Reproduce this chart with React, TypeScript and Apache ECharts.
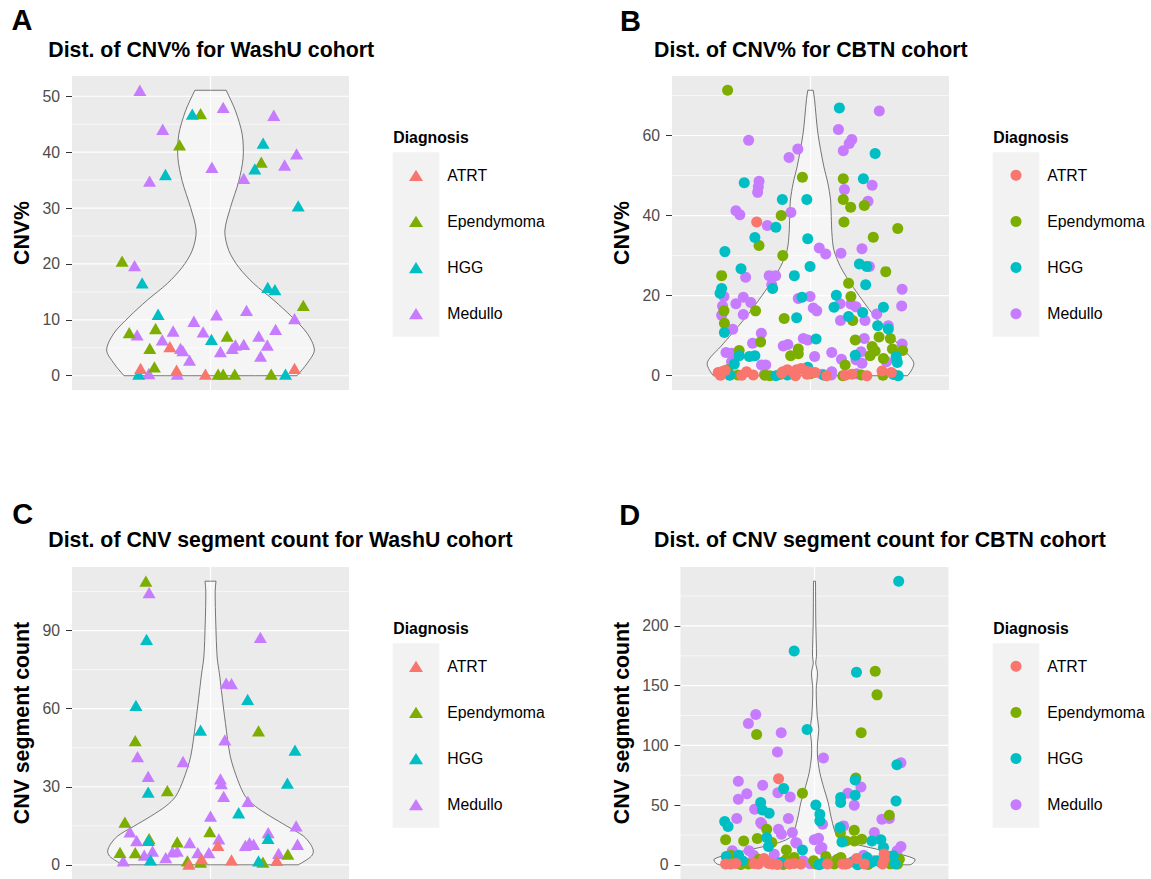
import React, { useEffect, useRef } from 'react';
import * as echarts from 'echarts';

const FONT = "'Liberation Sans', Arial, Helvetica, sans-serif";

const DIAGNOSES = ['ATRT', 'Ependymoma', 'HGG', 'Medullo'];
const COLORS = ['#F8766D', '#7CAE00', '#00BFC4', '#C77CFF'];
// Medullo first, ATRT last so the ATRT marks sit on top
const DRAW_ORDER = [3, 1, 2, 0];

// ---------- WashU, CNV% : [jitter offset, value] ----------
const washuPctATRT = [[-0.176, 5.2], [-0.303, 1.3], [-0.147, 1.0], [-0.022, 0.3], [0.364, 1.3]];
const washuPctEpendymoma = [
  [-0.043, 46.9], [-0.134, 41.3], [0.22, 38.2], [-0.383, 20.5], [-0.352, 7.7], [-0.238, 8.45],
  [-0.263, 4.9], [-0.243, 1.6], [0.072, 7.1], [0.402, 12.6], [0.033, 0.3], [0.055, 0.3],
  [0.105, 0.3], [0.263, 0.3],
];
const washuPctHGG = [
  [-0.079, 46.8], [-0.195, 36.0], [0.228, 41.6], [0.192, 37.0], [0.38, 30.4], [-0.296, 16.6],
  [-0.227, 11.0], [0.248, 15.8], [0.279, 15.4], [0.004, 6.5], [-0.311, 0.3], [0.325, 0.3],
];
const washuPctMedullo = [
  [-0.306, 51.07], [-0.207, 44.1], [-0.264, 34.8], [0.055, 48.0], [0.006, 37.3], [0.274, 46.6],
  [0.321, 37.7], [0.373, 39.7], [0.144, 35.3], [-0.329, 19.7], [-0.318, 7.3], [-0.209, 6.4],
  [-0.162, 8.0], [-0.13, 4.9], [-0.12, 4.5], [-0.091, 2.8], [-0.072, 9.75], [-0.032, 7.85],
  [0.026, 10.9], [0.043, 4.3], [0.094, 4.9], [0.108, 5.5], [0.144, 5.6], [0.156, 11.7],
  [0.209, 7.1], [0.217, 3.5], [0.246, 5.5], [0.282, 8.3], [0.364, 10.2], [-0.267, 0.4], [-0.144, 0.3],
];
const washuPctViolinY = [0, 2.2, 4.6, 7.6, 10.5, 13.5, 16.5, 19.4, 22.4, 25.9, 30.1, 34.8, 39.0, 43.2, 47.4, 51.07];
const washuPctViolinW = [0.833, 0.93, 1.0, 0.93, 0.785, 0.61, 0.416, 0.272, 0.176, 0.138, 0.192, 0.272, 0.314, 0.305, 0.24, 0.151];
const washuPctMajor = [0, 10, 20, 30, 40, 50];
const washuPctMinor = [5, 15, 25, 35, 45];

// ---------- CBTN, CNV% ----------
const cbtnPctATRT = [
  [-0.4, 0.8], [-0.385, 1.0], [-0.37, 1.3], [-0.39, 0.1], [-0.298, 0.1], [-0.277, 1.0], [-0.248, 0.2],
  [-0.233, 38.4], [-0.12, 1.0], [-0.1, 1.5], [-0.07, 0.5], [-0.06, 1.5], [-0.04, 1.8], [-0.02, 1.1],
  [0.0, 0.9], [0.02, 0.8], [0.07, 0.0], [0.15, 0.1], [0.18, 0.4], [0.244, 0.0], [0.31, 1.2],
  [0.35, 0.8], [-0.125, 0.6], [-0.015, 0.4], [-0.065, 0.0],
];
const cbtnPctEpendymoma = [
  [-0.359, 71.3], [-0.035, 49.6], [0.142, 49.2], [0.142, 44.0], [0.174, 42.1], [0.233, 42.5],
  [-0.127, 40.0], [0.145, 38.4], [0.378, 36.8], [-0.223, 32.5], [0.272, 34.6], [-0.12, 30.0],
  [0.326, 26.0], [-0.385, 25.0], [0.165, 23.1], [0.175, 19.8], [0.183, 13.8], [-0.375, 16.2],
  [-0.238, 16.2], [-0.114, 14.3], [-0.373, 13.1], [-0.216, 8.4], [0.194, 8.9], [0.297, 9.7],
  [0.346, 9.3], [0.355, 6.7], [0.399, 6.3], [0.267, 7.3], [0.28, 6.2], [-0.053, 6.7], [-0.053, 5.5],
  [-0.086, 5.0], [0.258, 5.0], [-0.309, 6.3], [0.316, 4.3], [0.373, 3.9], [0.15, 2.7], [-0.314, 0.2],
  [-0.197, 0.1], [-0.176, 0.0], [-0.132, 0.3], [0.14, 0.0], [0.22, 0.2], [0.314, 0.1], [-0.36, 1.5],
  [0.0, 0.5],
];
const cbtnPctHGG = [
  [0.125, 66.9], [0.28, 55.5], [-0.287, 48.2], [0.229, 49.2], [-0.122, 44.0], [-0.016, 44.0],
  [-0.15, 37.1], [-0.241, 34.5], [-0.012, 34.2], [-0.371, 31.0], [0.212, 27.9], [0.244, 27.3],
  [-0.002, 27.3], [-0.301, 26.7], [-0.07, 25.0], [-0.164, 21.8], [-0.385, 21.8], [-0.392, 20.6],
  [0.239, 22.7], [0.112, 20.1], [-0.037, 19.6], [0.102, 17.1], [0.316, 17.1], [0.226, 15.8],
  [0.165, 14.8], [-0.06, 14.5], [-0.373, 10.8], [0.291, 12.5], [0.337, 11.7], [0.024, 9.2],
  [0.194, 5.1], [-0.309, 5.0], [-0.265, 4.8], [-0.241, 5.0], [-0.33, 2.9], [0.371, 4.8], [0.376, 3.3],
  [-0.012, 2.1], [-0.35, 0.1], [-0.15, 0.0], [-0.1, 0.2], [0.06, 0.1], [0.36, 0.3], [0.38, 0.0],
];
const cbtnPctMedullo = [
  [-0.268, 58.8], [-0.055, 56.6], [-0.093, 54.5], [0.298, 66.1], [0.121, 61.5], [0.179, 59.0],
  [0.168, 58.0], [0.142, 56.2], [-0.223, 48.6], [-0.226, 47.2], [-0.229, 45.8], [0.267, 47.6],
  [0.147, 46.5], [0.249, 43.6], [-0.323, 41.2], [-0.306, 40.2], [-0.085, 40.8], [-0.187, 37.5],
  [0.038, 31.9], [0.066, 30.4], [0.132, 30.6], [0.223, 31.7], [0.255, 27.3], [-0.281, 24.6],
  [-0.179, 25.0], [-0.151, 25.0], [-0.168, 22.7], [-0.375, 19.8], [0.397, 21.6], [-0.002, 19.8],
  [-0.053, 19.3], [-0.291, 19.6], [-0.259, 18.3], [-0.323, 18.0], [0.027, 16.2], [0.012, 16.9],
  [0.128, 18.0], [0.175, 17.9], [0.197, 17.2], [0.287, 15.4], [0.395, 17.4], [0.236, 13.8],
  [0.13, 13.8], [-0.381, 17.4], [-0.385, 15.1], [-0.291, 15.3], [-0.337, 11.6], [0.337, 12.5],
  [-0.213, 10.6], [-0.251, 8.1], [-0.031, 9.3], [-0.012, 8.9], [0.233, 9.3], [0.397, 7.9],
  [-0.118, 7.4], [-0.098, 7.8], [0.092, 5.8], [0.134, 4.1], [0.018, 4.8], [0.197, 4.0], [0.219, 6.0],
  [-0.366, 5.8], [-0.342, 5.6], [-0.342, 3.5], [-0.212, 2.7], [-0.194, 2.7], [0.329, 3.5], [0.092, 1.0],
  [0.223, 3.1], [-0.35, 0.5], [-0.2, 0.3], [0.05, 0.4], [0.09, 0.2], [0.2, 0.5],
];
const cbtnPctViolinY = [0, 1.4, 3.1, 4.8, 7.2, 10.6, 14.7, 18.9, 23.1, 27.2, 31.4, 35.6, 39.8, 43.9, 48.1, 52.3, 60.6, 69.0, 71.3];
const cbtnPctViolinW = [0.935, 0.973, 0.995, 0.957, 0.867, 0.754, 0.62, 0.498, 0.385, 0.289, 0.225, 0.206, 0.2, 0.193, 0.167, 0.128, 0.071, 0.039, 0.026];
const cbtnPctMajor = [0, 20, 40, 60];
const cbtnPctMinor = [10, 30, 50, 70];

// ---------- WashU, CNV segment count ----------
const washuSegATRT = [[0.032, 7.5], [-0.094, 0.3], [-0.039, 2.4], [0.091, 1.9], [0.287, 1.7]];
const washuSegEpendymoma = [
  [-0.28, 109.0], [-0.326, 47.7], [-0.187, 28.5], [0.208, 51.5], [-0.371, 16.4], [-0.392, 4.8],
  [-0.326, 4.7], [-0.266, 10.1], [-0.144, 8.8], [-0.003, 12.8], [-0.1, 1.5], [-0.043, 1.0],
  [0.227, 1.0], [0.335, 4.1],
];
const washuSegHGG = [
  [-0.277, 86.6], [-0.323, 61.3], [-0.27, 27.9], [-0.043, 51.8], [0.161, 63.6], [0.366, 44.1],
  [0.333, 31.4], [0.122, 20.0], [0.249, 10.2], [-0.269, 9.4], [-0.26, 1.9], [0.208, 1.5],
];
const washuSegMedullo = [
  [-0.266, 104.6], [0.216, 87.4], [0.068, 69.8], [0.091, 69.6], [0.062, 48.0], [-0.119, 39.7],
  [-0.316, 41.6], [-0.27, 34.0], [0.043, 33.0], [0.047, 31.2], [0.057, 26.3], [0.162, 24.4],
  [0.0, 18.7], [-0.349, 12.7], [-0.32, 9.3], [-0.251, 5.3], [-0.287, 3.7], [-0.378, 1.5],
  [-0.194, 2.8], [-0.165, 5.0], [-0.144, 5.3], [-0.09, 8.5], [-0.055, 4.7], [-0.007, 4.7],
  [0.036, 10.0], [0.151, 7.5], [0.169, 8.5], [0.187, 7.9], [0.25, 12.4], [0.295, 4.4],
  [0.371, 15.0], [0.377, 7.9],
];
const washuSegViolinY = [0, 1.5, 3.4, 5.3, 7.9, 11.1, 14.9, 18.7, 22.5, 26.3, 32.7, 41.6, 54.3, 67.0, 73.4, 79.8, 92.5, 105.2, 109.0];
const washuSegViolinW = [0.845, 0.909, 0.973, 0.99, 0.963, 0.893, 0.734, 0.574, 0.431, 0.335, 0.261, 0.191, 0.144, 0.105, 0.086, 0.064, 0.051, 0.045, 0.053];
const washuSegMajor = [0, 30, 60, 90];
const washuSegMinor = [15, 45, 75, 105];

// ---------- CBTN, CNV segment count ----------
const cbtnSegATRT = [
  [-0.161, 72.1], [-0.398, 0.6], [-0.375, 0.6], [-0.352, 1.1], [-0.271, 1.1], [-0.251, 0.6],
  [-0.226, 5.3], [-0.205, 1.1], [-0.188, 0.6], [-0.166, 0.2], [-0.113, 0.6], [-0.091, 1.1],
  [-0.061, 0.6], [0.058, 0.6], [0.126, 0.6], [0.148, 1.1], [0.189, 5.3], [0.223, 0.6], [0.312, 9.0],
  [0.312, 4.7], [0.305, 0.6],
];
const cbtnSegEpendymoma = [
  [0.272, 162.1], [0.28, 142.3], [-0.259, 109.2], [0.209, 110.6], [0.185, 72.7], [-0.054, 59.9],
  [0.335, 41.5], [-0.214, 29.8], [0.178, 29.0], [0.116, 26.7], [-0.398, 20.9], [-0.317, 20.0],
  [-0.256, 22.0], [-0.191, 18.7], [0.141, 20.0], [0.179, 20.0], [0.212, 21.4], [-0.126, 12.5],
  [-0.375, 8.1], [-0.364, 4.7], [-0.296, 0.6], [-0.248, 4.7], [-0.128, 4.2], [-0.091, 6.1],
  [-0.004, 3.4], [0.006, 0.6], [0.051, 7.0], [0.088, 0.6], [0.103, 4.7], [0.118, 6.1], [0.14, 0.6],
  [0.372, 0.6], [0.38, 4.7], [0.2, 3.0], [-0.33, 0.2], [-0.14, 0.2], [0.24, 0.3], [0.34, 0.8],
];
const cbtnSegHGG = [
  [0.377, 237.5], [-0.091, 179.1], [0.188, 161.2], [-0.033, 113.3], [0.369, 83.8], [0.182, 71.0],
  [-0.138, 63.8], [0.117, 56.3], [0.117, 52.1], [0.182, 58.2], [0.365, 53.5], [0.006, 50.1],
  [-0.241, 52.1], [-0.233, 45.9], [-0.203, 43.2], [0.024, 42.3], [0.024, 36.8], [-0.402, 36.2],
  [-0.387, 32.0], [0.114, 31.2], [-0.214, 22.8], [-0.206, 15.3], [0.123, 19.2], [0.257, 20.0],
  [0.297, 20.9], [0.309, 14.5], [-0.054, 12.5], [-0.395, 6.9], [-0.34, 8.1], [-0.323, 3.4],
  [-0.151, 2.0], [0.021, 0.0], [0.033, 1.1], [0.171, 2.5], [0.193, 0.0], [0.235, 6.1], [0.253, 2.0],
  [0.353, 7.5], [0.362, 0.6], [0.28, 3.5],
];
const cbtnSegMedullo = [
  [-0.263, 125.9], [-0.296, 118.4], [-0.149, 110.6], [-0.166, 94.4], [0.04, 89.4], [0.387, 85.5],
  [-0.341, 69.9], [0.208, 65.2], [-0.232, 66.6], [-0.303, 59.6], [-0.164, 60.4], [-0.341, 54.9],
  [-0.109, 56.8], [0.149, 59.9], [0.178, 49.8], [-0.268, 46.5], [-0.348, 38.7], [-0.117, 38.7],
  [0.335, 38.7], [0.302, 38.1], [-0.241, 35.4], [-0.236, 34.2], [0.036, 34.0], [0.13, 32.6],
  [-0.161, 29.8], [-0.099, 27.0], [-0.148, 25.6], [0.268, 27.0], [-0.079, 18.1], [-0.001, 20.9],
  [0.018, 22.3], [0.387, 15.3], [0.025, 13.1], [0.033, 14.5], [-0.084, 18.7], [-0.368, 11.7],
  [-0.293, 11.7], [-0.18, 8.9], [-0.273, 8.1], [-0.385, 4.7], [-0.051, 3.4], [0.265, 3.4],
  [0.35, 4.7], [0.37, 11.7], [-0.31, 2.0], [-0.2, 3.0], [0.08, 2.5], [0.3, 1.5], [-0.02, 1.0],
  [0.22, 8.0],
];
const cbtnSegViolinY = [0, 1.3, 4.7, 8.9, 13.1, 18.7, 24.3, 38.2, 52.1, 63.2, 77.1, 91.1, 102.2, 113.3, 124.5, 146.8, 160.7, 169.0, 174.6, 202.4, 237.5];
const cbtnSegViolinW = [0.95, 0.98, 1.0, 0.85, 0.62, 0.35, 0.225, 0.17, 0.136, 0.097, 0.053, 0.03, 0.03, 0.043, 0.027, 0.017, 0.03, 0.012, 0.02, 0.013, 0.01];
const cbtnSegMajor = [0, 50, 100, 150, 200];
const cbtnSegMinor = [25, 75, 125, 175, 225];

// half of ggplot's default violin width (0.9)
const VIOLIN_HALF = 0.45;

const panels = [
  {
    letter: 'A', title: 'Dist. of CNV% for WashU cohort', yName: 'CNV%', symbol: 'triangle',
    groups: [washuPctATRT, washuPctEpendymoma, washuPctHGG, washuPctMedullo],
    violinY: washuPctViolinY, violinW: washuPctViolinW, major: washuPctMajor, minor: washuPctMinor,
    grid: { left: 72, top: 76, width: 277, height: 314 }, nameGap: 40,
    letterPos: [11.5, 5.5], titlePos: [48.3, 39], legendX: 392.7, legendY: 152.3,
  },
  {
    letter: 'B', title: 'Dist. of CNV% for CBTN cohort', yName: 'CNV%', symbol: 'circle',
    groups: [cbtnPctATRT, cbtnPctEpendymoma, cbtnPctHGG, cbtnPctMedullo],
    violinY: cbtnPctViolinY, violinW: cbtnPctViolinW, major: cbtnPctMajor, minor: cbtnPctMinor,
    grid: { left: 672, top: 76, width: 277, height: 314 }, nameGap: 39.4,
    letterPos: [620, 6.5], titlePos: [654, 39], legendX: 992.7, legendY: 152.3,
  },
  {
    letter: 'C', title: 'Dist. of CNV segment count for WashU cohort', yName: 'CNV segment count', symbol: 'triangle',
    groups: [washuSegATRT, washuSegEpendymoma, washuSegHGG, washuSegMedullo],
    violinY: washuSegViolinY, violinW: washuSegViolinW, major: washuSegMajor, minor: washuSegMinor,
    grid: { left: 72, top: 567, width: 277, height: 313 }, nameGap: 39.6,
    letterPos: [12.3, 499.7], titlePos: [48.3, 529], legendX: 392.7, legendY: 643.3,
  },
  {
    letter: 'D', title: 'Dist. of CNV segment count for CBTN cohort', yName: 'CNV segment count', symbol: 'circle',
    groups: [cbtnSegATRT, cbtnSegEpendymoma, cbtnSegHGG, cbtnSegMedullo],
    violinY: cbtnSegViolinY, violinW: cbtnSegViolinW, major: cbtnSegMajor, minor: cbtnSegMinor,
    grid: { left: 680.5, top: 567, width: 268, height: 313 }, nameGap: 47.6,
    letterPos: [619.3, 500], titlePos: [654, 529.6], legendX: 992.7, legendY: 643.3,
  },
];

const KEY = 46.1;
const TITLE_SIZE = 21.3;

function buildOption() {
  const grid: any[] = [];
  const xAxis: any[] = [];
  const yAxis: any[] = [];
  const series: any[] = [];
  const title: any[] = [];
  const legend: any[] = [];
  const graphic: any[] = [];

  panels.forEach((p, i) => {
    grid.push({ ...p.grid, show: true, backgroundColor: '#EBEBEB', borderWidth: 0, containLabel: false });
    xAxis.push({ gridIndex: i, type: 'value', min: 0.4, max: 1.6, show: false });

    const vmax = Math.max(...p.groups.flat().map((d: number[]) => d[1]));
    yAxis.push({
      gridIndex: i,
      type: 'value',
      min: -0.05 * vmax,
      max: 1.05 * vmax,
      name: p.yName,
      nameLocation: 'middle',
      nameGap: p.nameGap,
      nameTextStyle: { fontFamily: FONT, fontSize: TITLE_SIZE, fontWeight: 'bold', color: '#000' },
      axisLine: { show: false },
      axisTick: { show: true, length: 6, customValues: p.major, lineStyle: { color: '#333333', width: 1 } },
      axisLabel: { customValues: p.major, fontFamily: FONT, fontSize: 15.8, color: '#4D4D4D', margin: 12 },
      splitLine: { show: false },
    });

    // grid lines + violin outline, placed through the panel's own axes
    series.push({
      type: 'custom',
      xAxisIndex: i,
      yAxisIndex: i,
      silent: true,
      z: 1,
      clip: false,
      data: [[1, 0]],
      encode: { x: 0, y: 1 },
      renderItem: (params: any, api: any) => {
        const cs = params.coordSys;
        const children: any[] = [];
        const hline = (v: number, w: number) => {
          const y = api.coord([1, v])[1];
          children.push({
            type: 'line',
            shape: { x1: cs.x, y1: y, x2: cs.x + cs.width, y2: y },
            style: { stroke: '#FFFFFF', lineWidth: w },
          });
        };
        p.minor.forEach((v) => hline(v, 0.6));
        p.major.forEach((v) => hline(v, 1.2));
        const cx = api.coord([1, 0])[0];
        children.push({
          type: 'line',
          shape: { x1: cx, y1: cs.y, x2: cx, y2: cs.y + cs.height },
          style: { stroke: '#FFFFFF', lineWidth: 1.2 },
        });
        const leftSide = p.violinY.map((y, k) => api.coord([1 - VIOLIN_HALF * p.violinW[k], y]));
        const rightSide = p.violinY.map((y, k) => api.coord([1 + VIOLIN_HALF * p.violinW[k], y])).reverse();
        // repeat the four corner points so the flat trimmed ends keep sharp corners
        const n = leftSide.length;
        const pts = [
          leftSide[0], ...leftSide, leftSide[n - 1],
          rightSide[0], ...rightSide, rightSide[n - 1],
        ];
        children.push({
          type: 'polygon',
          shape: { points: pts, smooth: 0.3 },
          style: { fill: 'rgba(255,255,255,0.5)', stroke: '#555555', lineWidth: 0.8 },
        });
        return { type: 'group', children };
      },
    });

    DRAW_ORDER.forEach((g) => {
      series.push({
        type: 'scatter',
        name: DIAGNOSES[g],
        xAxisIndex: i,
        yAxisIndex: i,
        z: 2,
        silent: true,
        symbol: p.symbol,
        symbolSize: p.symbol === 'triangle' ? [13, 11.3] : 11,
        itemStyle: { color: COLORS[g], opacity: 1 },
        data: p.groups[g].map((d: number[]) => [1 + d[0], d[1]]),
      });
    });

    title.push({
      text: p.letter, left: p.letterPos[0], top: p.letterPos[1], padding: 0,
      textStyle: { fontFamily: FONT, fontSize: 29, fontWeight: 'bold', color: '#000' },
    });
    title.push({
      text: p.title, left: p.titlePos[0], top: p.titlePos[1], padding: 0,
      textStyle: { fontFamily: FONT, fontSize: TITLE_SIZE, fontWeight: 'bold', color: '#000' },
    });
    title.push({
      text: 'Diagnosis', left: p.legendX + 0.6, top: p.legendY - 23, padding: 0,
      textStyle: { fontFamily: FONT, fontSize: 15.8, fontWeight: 'bold', color: '#000' },
    });

    graphic.push({
      type: 'rect',
      z: 0,
      silent: true,
      shape: { x: p.legendX, y: p.legendY, width: 46.6, height: KEY * 4 },
      style: { fill: '#F2F2F2' },
    });

    const isTri = p.symbol === 'triangle';
    const iw = isTri ? 14 : 11;
    const ih = isTri ? 11.3 : 11;
    legend.push({
      data: DIAGNOSES,
      orient: 'vertical',
      selectedMode: false,
      icon: p.symbol,
      left: p.legendX + 23.3 - iw / 2,
      top: p.legendY + KEY / 2 - 8,
      itemWidth: iw,
      itemHeight: ih,
      itemGap: KEY - 16,
      padding: 0,
      textStyle: {
        fontFamily: FONT, fontSize: 15.8, color: '#000', lineHeight: 16,
        // label starts 54.6px right of the key column's left edge
        padding: [0, 0, 0, 54.6 - 23.3 - iw / 2 - 5],
      },
    });
  });

  return { animation: false, backgroundColor: '#FFFFFF', grid, xAxis, yAxis, series, title, legend, graphic };
}

export default function App() {
  const ref = useRef<HTMLDivElement>(null);
  useEffect(() => {
    if (!ref.current) return;
    const chart = echarts.init(ref.current, undefined, { renderer: 'svg' });
    chart.setOption(buildOption());
    return () => chart.dispose();
  }, []);
  return (
    <div
      ref={ref}
      style={{ position: 'absolute', left: 0, top: 0, width: 1151, height: 879 }}
    />
  );
}
